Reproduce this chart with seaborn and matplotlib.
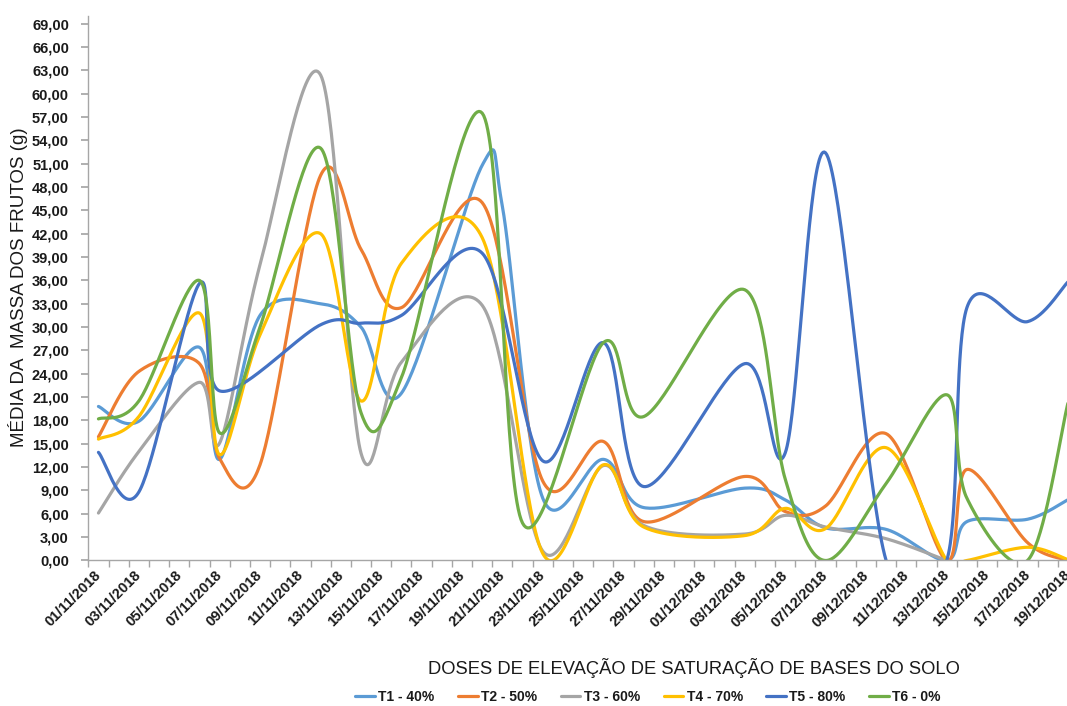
import numpy as np
import pandas as pd
import seaborn as sns
import matplotlib.pyplot as plt

sns.set_theme(style="white")
plt.rcParams['font.family'] = ['Liberation Sans', 'DejaVu Sans']

# datas de colheita (eixo de categorias diario, de 01/11 a 19/12/2018)
inicio = pd.Timestamp(2018, 11, 1)
fim = pd.Timestamp(2018, 12, 19)
datas = ['01/11/2018', '03/11/2018', '06/11/2018', '07/11/2018', '09/11/2018',
         '12/11/2018', '14/11/2018', '16/11/2018', '20/11/2018', '21/11/2018',
         '22/11/2018', '23/11/2018', '26/11/2018', '28/11/2018', '03/12/2018',
         '05/12/2018', '07/12/2018', '10/12/2018', '13/12/2018', '14/12/2018',
         '17/12/2018', '19/12/2018']

t1 = [19.8, 17.9, 27.4, 13.0, 31.5, 33.0, 30.0, 21.5, 50.8, 45.5, None, 8.0,
      13.0, 6.8, 9.3, 7.8, 4.2, 4.0, 0.0, 5.0, 5.3, 7.8]
t2 = [15.9, 24.3, 25.3, 13.1, 12.3, 49.5, 40.0, 32.5, 46.0, None, None, 10.2,
      15.3, 5.0, 10.8, 6.3, 7.0, 16.3, 0.0, 11.7, 2.3, 0.0]
t3 = [6.1, 14.0, 22.9, 15.1, 38.0, 62.4, 13.8, 25.5, 32.8, None, None, 1.2,
      12.2, 4.5, 3.4, 5.8, 4.3, 2.8, 0.0, None, None, None]
t4 = [15.6, 18.5, 31.8, 13.6, 29.0, 42.0, 20.5, 38.2, 41.5, None, None, 0.9,
      12.3, 4.3, 3.2, 6.7, 4.1, 14.5, 0.0, 0.0, 1.7, 0.1]
t5 = [13.9, 8.8, 35.6, 21.8, None, 30.3, 30.5, 31.5, 39.5, None, None, 12.8,
      28.0, 9.5, 25.3, 13.8, 52.4, 0.0, 0.0, 32.5, 30.7, 35.8]
t6 = [18.2, 20.5, 36.0, 16.4, 30.0, 53.0, 19.0, 23.5, 57.5, None, 4.8, None,
      28.0, 18.5, 34.8, 10.5, 0.0, 9.9, 21.3, 8.0, 0.0, 20.2]

nomes = ['T1 - 40%', 'T2 - 50%', 'T3 - 60%', 'T4 - 70%', 'T5 - 80%', 'T6 - 0%']
cores = ['#5B9BD5', '#ED7D31', '#A5A5A5', '#FFC000', '#4472C4', '#70AD47']
series = [t1, t2, t3, t4, t5, t6]


def suavizar(x, y, n=40):
    # linha suavizada estilo Excel (Bezier tipo Catmull-Rom)
    p = np.column_stack([x, y]).astype(float)
    t = np.linspace(0, 1, n)[:, None]
    partes = []
    for i in range(len(p) - 1):
        p0 = p[i - 1] if i > 0 else p[i]
        p1, p2 = p[i], p[i + 1]
        p3 = p[i + 2] if i + 2 < len(p) else p[i + 1]
        c1 = p1 + (p2 - p0) / 6
        c2 = p2 - (p3 - p1) / 6
        b = (1 - t) ** 3 * p1 + 3 * (1 - t) ** 2 * t * c1 + 3 * (1 - t) * t ** 2 * c2 + t ** 3 * p2
        partes.append(b if i == 0 else b[1:])
    return np.vstack(partes)


dias = (pd.to_datetime(datas, format='%d/%m/%Y') - inicio).days.values
linhas = []
for nome, vals in zip(nomes, series):
    v = pd.Series(vals, index=dias, dtype=float).dropna()
    curva = suavizar(v.index.values, v.values)
    linhas.append(pd.DataFrame({'dia': curva[:, 0], 'valor': curva[:, 1], 'serie': nome}))
df = pd.concat(linhas, ignore_index=True)

fig = plt.figure(figsize=(10.67, 7.06), dpi=100)
ax = fig.add_axes([0.0828, 0.2061, 0.9275, 0.7714])

sns.lineplot(data=df, x='dia', y='valor', hue='serie', hue_order=nomes, palette=cores,
             sort=False, estimator=None, linewidth=2.3, ax=ax)

ndias = (fim - inicio).days
ax.set_xlim(-0.5, ndias + 0.5)
ax.set_ylim(0, 70)
ax.set_yticks(np.arange(0, 70, 3))
ax.set_yticklabels([f'{v:.2f}'.replace('.', ',') for v in np.arange(0, 70, 3)])
ax.set_xticks(np.arange(-0.5, ndias + 1, 1), minor=True)
rotulos = pd.date_range(inicio, fim, freq='2D')
ax.set_xticks((rotulos - inicio).days)
ax.set_xticklabels(rotulos.strftime('%d/%m/%Y'), rotation=45, ha='right', va='center',
                   rotation_mode='anchor')

cor_eixo = '#A6A6A6'
for lado in ['top', 'right']:
    ax.spines[lado].set_visible(False)
for lado in ['left', 'bottom']:
    ax.spines[lado].set_color(cor_eixo)
    ax.spines[lado].set_linewidth(1.0)
ax.tick_params(axis='y', which='major', direction='out', length=5, color=cor_eixo,
               labelsize=10.5, labelcolor='#1a1a1a', pad=9, left=True)
ax.tick_params(axis='x', which='major', length=0, labelsize=10.5, labelcolor='#1a1a1a', pad=9)
ax.tick_params(axis='x', which='minor', direction='out', length=5, color=cor_eixo, bottom=True)
for lab in ax.get_xticklabels() + ax.get_yticklabels():
    lab.set_fontweight('bold')

ax.set_xlabel('')
ax.set_ylabel('')
fig.text(0.017, 1 - 287 / 706, 'MÉDIA DA  MASSA DOS FRUTOS (g)', rotation=90,
         ha='center', va='center', fontsize=13.5, color='#1a1a1a')
fig.text(694 / 1067, 1 - 668 / 706, 'DOSES DE ELEVAÇÃO DE SATURAÇÃO DE BASES DO SOLO',
         ha='center', va='center', fontsize=13.2, color='#1a1a1a')

handles, labels = ax.get_legend_handles_labels()
ax.get_legend().remove()
leg = fig.legend(handles, labels, loc='center', bbox_to_anchor=(648 / 1067, 1 - 697 / 706),
                 ncol=6, frameon=False, handlelength=1.4, handletextpad=0.25,
                 columnspacing=1.7, fontsize=10)
for txt in leg.get_texts():
    txt.set_fontweight('bold')
    txt.set_color('#1a1a1a')

fig.savefig('out.png', dpi=100)
